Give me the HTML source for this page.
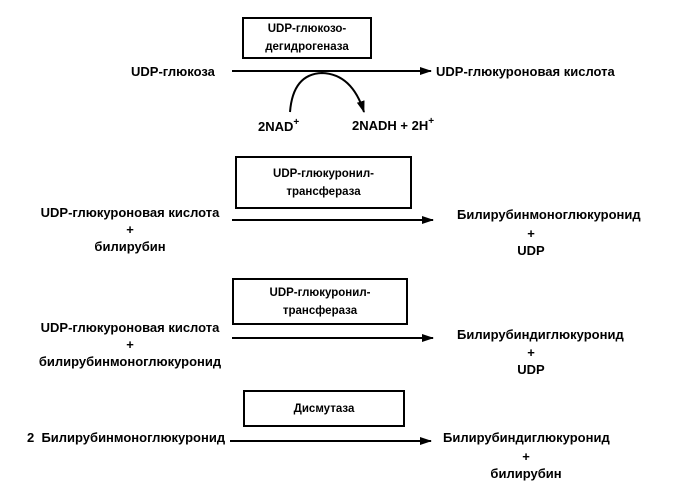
<!DOCTYPE html>
<html><head><meta charset="utf-8"><style>
body{margin:0;width:688px;height:491px;background:#fff;position:relative;overflow:hidden;font-family:"Liberation Sans",Arial,sans-serif;font-weight:bold;font-size:13px;color:#000}
.t{position:absolute;white-space:nowrap;line-height:16px}
.c{position:absolute;text-align:center;white-space:nowrap;line-height:17px;transform:translateX(-50%)}
.box{position:absolute;border:2px solid #000;text-align:center;font-size:11.5px;line-height:18px;box-sizing:border-box;display:flex;align-items:center;justify-content:center}
sup{font-size:10px;vertical-align:6px;line-height:0}
</style></head><body>
<svg width="688" height="491" style="position:absolute;left:0;top:0">
<defs><marker id="a" markerWidth="12" markerHeight="8" refX="11" refY="4" orient="auto" markerUnits="userSpaceOnUse"><path d="M0,0 L12,4 L0,8 Z" fill="#000"/></marker></defs>
<g stroke="#000" stroke-width="2" fill="none">
<line x1="232" y1="71" x2="431" y2="71" marker-end="url(#a)"/>
<path d="M290,112 Q293,74 322,73 Q352,74 364,112" marker-end="url(#a)"/>
<line x1="232" y1="220" x2="433" y2="220" marker-end="url(#a)"/>
<line x1="232" y1="338" x2="433" y2="338" marker-end="url(#a)"/>
<line x1="230" y1="441" x2="431" y2="441" marker-end="url(#a)"/>
</g></svg>
<div class="box" style="left:242px;top:17px;width:130px;height:42px">UDP-глюкозо-<br>дегидрогеназа</div>
<div class="t" style="left:131px;top:64px">UDP-глюкоза</div>
<div class="t" style="left:436px;top:64px">UDP-глюкуроновая кислота</div>
<div class="t" style="left:258px;top:119px">2NAD<sup>+</sup></div>
<div class="t" style="left:352px;top:118px">2NADH + 2H<sup>+</sup></div>

<div class="box" style="left:235px;top:156px;width:177px;height:53px">UDP-глюкуронил-<br>трансфераза</div>
<div class="c" style="left:130px;top:204px">UDP-глюкуроновая кислота<br>+<br>билирубин</div>
<div class="t" style="left:457px;top:207px">Билирубинмоноглюкуронид</div>
<div class="c" style="left:531px;top:225px">+<br>UDP</div>

<div class="box" style="left:232px;top:278px;width:176px;height:47px">UDP-глюкуронил-<br>трансфераза</div>
<div class="c" style="left:130px;top:319px">UDP-глюкуроновая кислота<br>+<br>билирубинмоноглюкуронид</div>
<div class="t" style="left:457px;top:327px">Билирубиндиглюкуронид</div>
<div class="c" style="left:531px;top:344px">+<br>UDP</div>

<div class="box" style="left:243px;top:390px;width:162px;height:37px">Дисмутаза</div>
<div class="t" style="left:27px;top:430px">2&nbsp; Билирубинмоноглюкуронид</div>
<div class="t" style="left:443px;top:430px">Билирубиндиглюкуронид</div>
<div class="c" style="left:526px;top:448px">+<br>билирубин</div>
</body></html>
